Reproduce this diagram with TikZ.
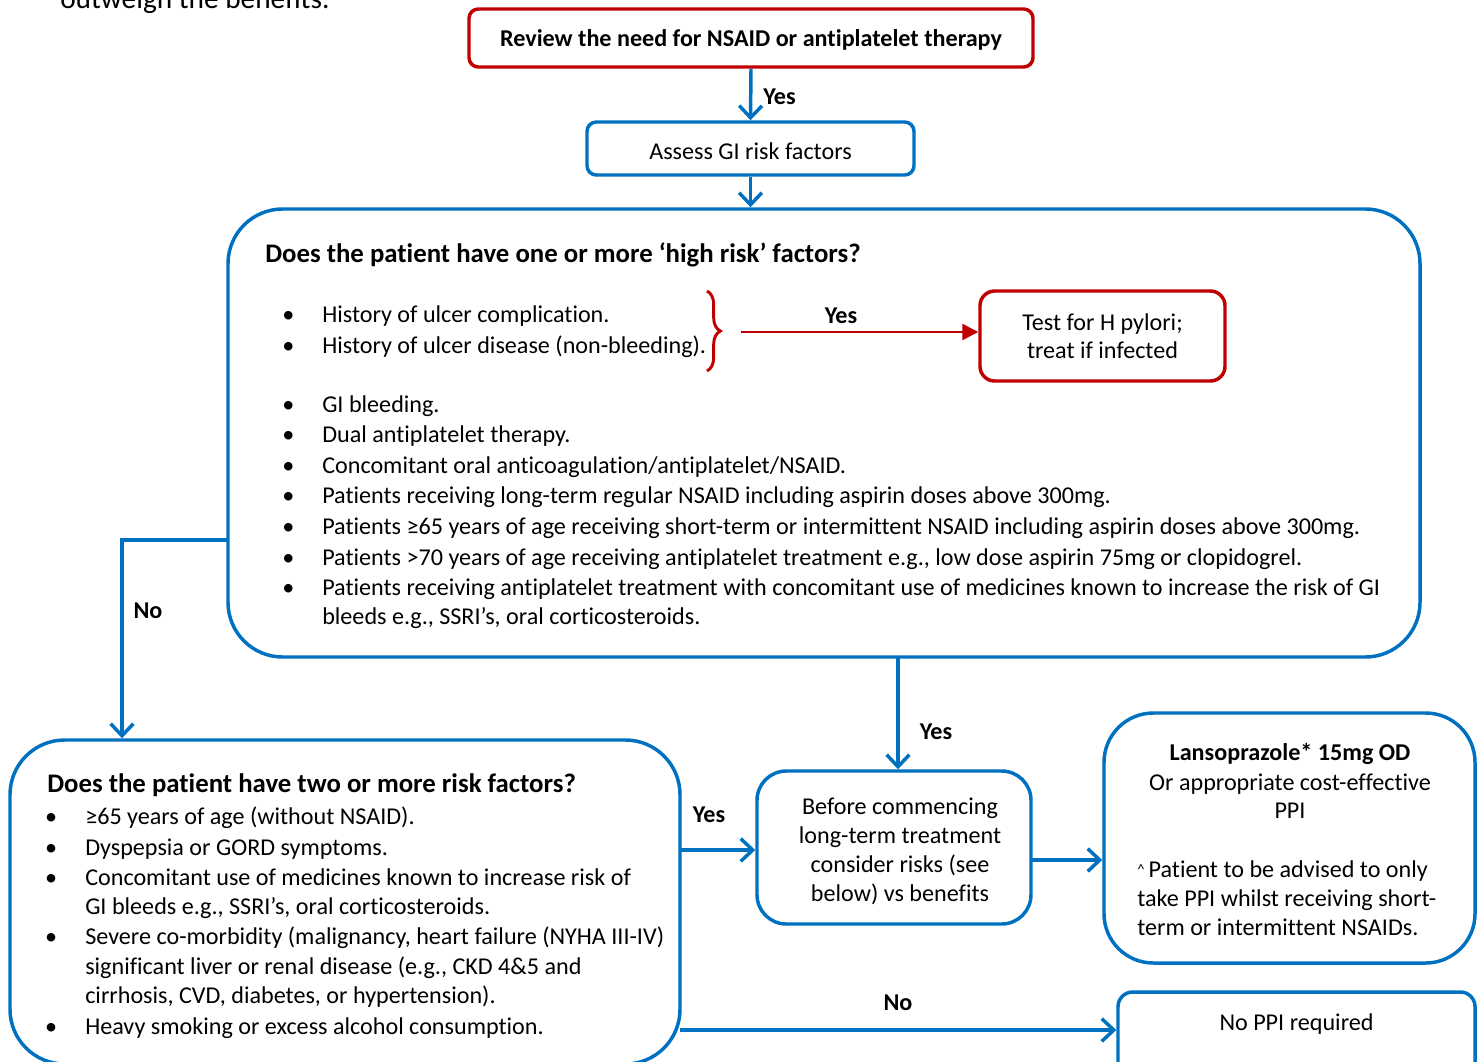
\documentclass[tikz,border=0pt]{standalone}
\usepackage{fontspec}
\setmainfont{Carlito}[Ligatures=NoCommon, RawFeature={-liga;-clig;-dlig}]
\usetikzlibrary{arrows.meta,decorations.pathreplacing}
\definecolor{cblue}{HTML}{0070C0}
\definecolor{cred}{HTML}{C00000}
\newcommand\fs{\fontsize{18.1pt}{22.9pt}\selectfont}
\newcommand\hs{\fontsize{20.1pt}{24pt}\selectfont\bfseries}
\newcommand\bul{\llap{\textbullet\hspace{21pt}}}
\begin{document}
\begin{tikzpicture}[x=0.75pt,y=-0.75pt,
  bbox/.style={draw=cblue, line width=2.6pt, rounded corners=#1, inner sep=0pt},
  rbox/.style={draw=cred, line width=2.6pt, rounded corners=#1, inner sep=0pt},
  ln/.style={font=\fs, anchor=base west, inner sep=0pt},
  cn/.style={font=\fs, anchor=base, inner sep=0pt},
  lab/.style={font=\fs\bfseries, anchor=base, inner sep=0pt},
  barrow/.style={draw=cblue, line width=2.6pt, -{Straight Barb[length=9pt,width=17pt]}},
  rarrow/.style={draw=cred, line width=1.8pt, -{Triangle[length=12pt,width=12pt]}},
]
\useasboundingbox (0,0) rectangle (1481,1061);

% cut-off text at top
\node[ln, font=\fontsize{22pt}{26pt}\selectfont] (top) at (60,8) {outweigh the benefits.};

% boxes
\node[rbox=7pt, minimum width=423pt, minimum height=43.5pt] (rev) at (751,38) {};
\node[bbox=7pt, minimum width=245.25pt, minimum height=39.75pt] (assess) at (750.5,148.5) {};
\node[bbox=41pt, minimum width=894pt, minimum height=336pt] (big) at (824,433) {};
\node[rbox=11pt, minimum width=183.75pt, minimum height=67.5pt] (hp) at (1102.5,336) {};
\node[bbox=41pt, minimum width=502.5pt, minimum height=243pt] (low) at (345,902) {};
\node[bbox=22pt, minimum width=205.5pt, minimum height=114.75pt] (mid) at (894,847.5) {};
\node[bbox=37pt, minimum width=278.25pt, minimum height=187.5pt] (ppi) at (1289.5,838) {};
\node[bbox=11pt, minimum width=267.75pt, minimum height=66pt] (noppi) at (1296.5,1036) {};

% box texts
\node[lab] (revt) at (751,46) {Review the need for NSAID or antiplatelet therapy};
\node[cn] (assesst) at (750.5,159) {Assess GI risk factors};
\node[cn] (hpa) at (1102.5,330) {Test for H pylori;};
\node[cn] (hpb) at (1102.5,358) {treat if infected};

\node[ln, font=\hs] (bigh) at (265,262) {Does the patient have one or more ‘high risk’ factors?};
\node[ln] (b1) at (322,322) {\bul History of ulcer complication.};
\node[ln] (b2) at (322,353) {\bul History of ulcer disease (non-bleeding).};
\node[ln] (b3) at (322,412) {\bul GI bleeding.};
\node[ln] (b4) at (322,442) {\bul Dual antiplatelet therapy.};
\node[ln] (b5) at (322,473) {\bul Concomitant oral anticoagulation/antiplatelet/NSAID.};
\node[ln] (b6) at (322,503) {\bul Patients receiving long-term regular NSAID including aspirin doses above 300mg.};
\node[ln] (b7) at (322,534) {\bul Patients ≥65 years of age receiving short-term or intermittent NSAID including aspirin doses above 300mg.};
\node[ln] (b8) at (322,565) {\bul Patients >70 years of age receiving antiplatelet treatment e.g., low dose aspirin 75mg or clopidogrel.};
\node[ln] (b9) at (322,595) {\bul Patients receiving antiplatelet treatment with concomitant use of medicines known to increase the risk of GI};
\node[ln] (b9b) at (322,624) {bleeds e.g., SSRI’s, oral corticosteroids.};

\node[ln, font=\hs] (lowh) at (47,792) {Does the patient have two or more risk factors?};
\node[ln] (c1) at (85,824) {\bul ≥65 years of age (without NSAID).};
\node[ln] (c2) at (85,855) {\bul Dyspepsia or GORD symptoms.};
\node[ln] (c3) at (85,885) {\bul Concomitant use of medicines known to increase risk of};
\node[ln] (c3b) at (85,914) {GI bleeds e.g., SSRI’s, oral corticosteroids.};
\node[ln] (c4) at (85,944) {\bul Severe co-morbidity (malignancy, heart failure (NYHA III-IV)};
\node[ln] (c4b) at (85,974) {significant liver or renal disease (e.g., CKD 4\&5 and};
\node[ln] (c4c) at (85,1003) {cirrhosis, CVD, diabetes, or hypertension).};
\node[ln] (c5) at (85,1034) {\bul Heavy smoking or excess alcohol consumption.};

\node[cn] (m1) at (900,814) {Before commencing};
\node[cn] (m2) at (900,843) {long-term treatment};
\node[cn] (m3) at (900,872) {consider risks (see};
\node[cn] (m4) at (900,901) {below) vs benefits};

\node[lab] (p1) at (1290,760) {Lansoprazole* 15mg OD};
\node[cn] (p2) at (1290,790) {Or appropriate cost-effective};
\node[cn] (p3) at (1290,818) {PPI};
\node[ln] (p4) at (1137,877) {\raisebox{2pt}{\fontsize{11pt}{11pt}\selectfont\textasciicircum}\,Patient to be advised to only};
\node[ln] (p5) at (1137,906) {take PPI whilst receiving short-};
\node[ln] (p6) at (1137,935) {term or intermittent NSAIDs.};

\node[cn] (np) at (1296.5,1030) {No PPI required};

% connectors
\draw[barrow] (rev.south) -- (assess.north);
\node[lab, anchor=base west] (y1) at (763,104) {Yes};
\draw[barrow] (assess.south) -- (assess.south |- big.north);

\draw[cred, line width=2.2pt, decorate, decoration={brace, amplitude=10pt}] (707,291) -- (707,371);
\coordinate (bt) at (741,332);
\draw[rarrow] (bt) -- (bt -| hp.west);
\node[lab] (y2) at (841,323) {Yes};

\coordinate (na) at (228,540);
\coordinate (nb) at (122,540);
\draw[barrow] (na) -- (nb) -- (nb |- low.north);
\node[lab] (n1) at (148,618) {No};

\coordinate (ya) at (898,657);
\draw[barrow] (ya) -- (ya |- mid.north);
\node[lab] (y3) at (936,739) {Yes};

\coordinate (yl) at (680,850);
\draw[barrow] (yl) -- (yl -| mid.west);
\node[lab] (y4) at (709,822) {Yes};

\coordinate (yr) at (1031,860);
\draw[barrow] (yr) -- (yr -| ppi.west);

\coordinate (nl) at (680,1030);
\draw[barrow] (nl) -- (nl -| noppi.west);
\node[lab] (n2) at (898,1010) {No};
\end{tikzpicture}
\end{document}
